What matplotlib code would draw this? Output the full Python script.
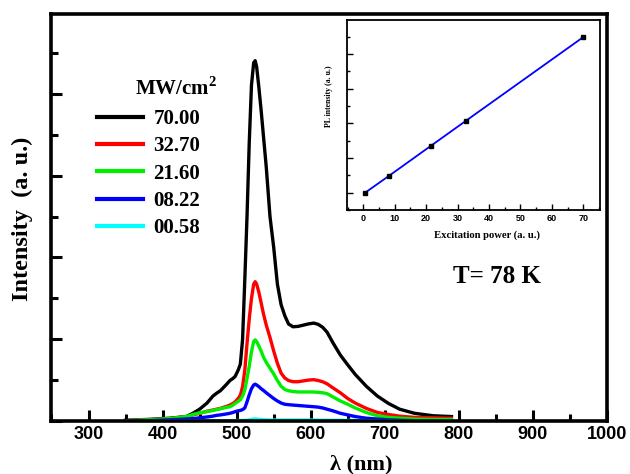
import numpy as np
import matplotlib
matplotlib.use("Agg")
import matplotlib.pyplot as plt
from matplotlib.ticker import MultipleLocator

plt.rcParams['mathtext.fontset'] = 'custom'
plt.rcParams['mathtext.rm'] = 'Liberation Serif:bold'
plt.rcParams['mathtext.bf'] = 'Liberation Serif:bold'

# wavelength grid (nm) shared by all spectra
wl = [350, 380, 410, 432, 441, 450, 460, 468, 473, 478, 485, 491, 495, 498, 502, 505,
      508, 511, 514, 517, 520, 523, 525, 527, 530, 533, 536, 540, 545, 550, 555, 560,
      565, 570, 576, 583, 590, 597, 604, 610, 616, 622, 630, 640, 650, 660, 675, 690,
      705, 720, 740, 765, 790]

pl_70 = [0.03, 0.05, 0.08, 0.12, 0.2, 0.3, 0.45, 0.62, 0.69, 0.75, 0.88, 1.0, 1.05, 1.1, 1.25, 1.4,
         2.0, 3.45, 5.0, 6.8, 8.2, 8.75, 8.8, 8.65, 8.15, 7.6, 7.0, 6.2, 5.0, 4.25, 3.35, 2.85,
         2.58, 2.38, 2.31, 2.32, 2.35, 2.38, 2.4, 2.37, 2.3, 2.18, 1.92, 1.62, 1.38, 1.15, 0.86, 0.62,
         0.44, 0.3, 0.2, 0.14, 0.12]
pl_327 = [0.02, 0.04, 0.07, 0.12, 0.16, 0.2, 0.25, 0.28, 0.3, 0.32, 0.36, 0.4, 0.44, 0.48, 0.56, 0.64,
          0.85, 1.25, 1.9, 2.5, 3.0, 3.35, 3.41, 3.35, 3.15, 2.9, 2.64, 2.35, 2.05, 1.72, 1.42, 1.18,
          1.06, 1.0, 0.97, 0.97, 0.99, 1.01, 1.02, 1.0, 0.97, 0.92, 0.82, 0.7, 0.56, 0.45, 0.32, 0.22,
          0.17, 0.13, 0.1, 0.09, 0.08]
pl_216 = [0.02, 0.04, 0.07, 0.12, 0.17, 0.21, 0.24, 0.27, 0.29, 0.31, 0.34, 0.36, 0.4, 0.44, 0.49, 0.53,
          0.62, 0.77, 1.05, 1.35, 1.7, 1.95, 1.99, 1.95, 1.84, 1.72, 1.58, 1.44, 1.3, 1.16, 1.0, 0.86,
          0.78, 0.75, 0.73, 0.72, 0.72, 0.72, 0.72, 0.71, 0.7, 0.68, 0.6, 0.5, 0.42, 0.33, 0.22, 0.14,
          0.1, 0.08, 0.06, 0.05, 0.05]
pl_822 = [0.01, 0.02, 0.04, 0.06, 0.07, 0.09, 0.11, 0.13, 0.15, 0.16, 0.18, 0.2, 0.22, 0.24, 0.26, 0.27,
          0.29, 0.33, 0.48, 0.65, 0.8, 0.89, 0.91, 0.89, 0.85, 0.8, 0.76, 0.7, 0.63, 0.56, 0.5, 0.45,
          0.42, 0.41, 0.4, 0.39, 0.38, 0.37, 0.36, 0.35, 0.33, 0.3, 0.26, 0.2, 0.16, 0.12, 0.08, 0.06,
          0.04, 0.03, 0.02, 0.02, 0.02]
pl_058 = [0.01, 0.01, 0.015, 0.02, 0.02, 0.02, 0.02, 0.02, 0.02, 0.02, 0.02, 0.02, 0.02, 0.02, 0.025, 0.025,
          0.025, 0.03, 0.03, 0.04, 0.05, 0.06, 0.06, 0.06, 0.05, 0.05, 0.04, 0.04, 0.035, 0.035, 0.035, 0.035,
          0.035, 0.035, 0.035, 0.035, 0.035, 0.035, 0.035, 0.035, 0.03, 0.03, 0.03, 0.03, 0.025, 0.025, 0.02, 0.02,
          0.02, 0.02, 0.02, 0.02, 0.02]

spectra = [pl_70, pl_327, pl_216, pl_822, pl_058]
labels = ["70.00", "32.70", "21.60", "08.22", "00.58"]
colors = ["black", "red", "#00ee00", "blue", "cyan"]

# inset: integrated PL vs excitation power
power = [0.58, 8.22, 21.6, 32.7, 70.0]
pl_int = [0.0, 0.98, 2.72, 4.16, 8.99]

fig = plt.figure(figsize=(6.3, 4.74), dpi=100)
ax = fig.add_axes([0.0817, 0.1108, 0.8818, 0.8597])

for y, lab, c in zip(spectra, labels, colors):
    ax.plot(wl, y, color=c, lw=2.4, label=lab)

ax.set_xlim(250, 1000)
ax.set_ylim(0, 9.94)
ax.xaxis.set_major_locator(MultipleLocator(100))
ax.xaxis.set_minor_locator(MultipleLocator(50))
ax.yaxis.set_major_locator(MultipleLocator(2))
ax.yaxis.set_minor_locator(MultipleLocator(1))
ax.tick_params(which='both', direction='in', top=False, right=False, width=2.2)
ax.tick_params(which='major', length=8)
ax.tick_params(which='minor', length=5)
ax.tick_params(axis='y', which='major', labelleft=False)
ax.tick_params(axis='x', labelsize=13)
for t in ax.get_xticklabels():
    t.set_fontfamily('Liberation Sans')
    t.set_fontweight('bold')
for s in ax.spines.values():
    s.set_linewidth(2.6)

ax.set_xlabel("λ (nm)", fontfamily='Liberation Serif', fontweight='bold', fontsize=16)
ax.xaxis.set_label_coords(0.557, -0.08)
ax.set_ylabel("Intensity  (a. u.)", fontfamily='Liberation Serif', fontweight='bold', fontsize=17.5)
ax.yaxis.set_label_coords(-0.033, 0.497)

leg = ax.legend(loc='upper left', bbox_to_anchor=(0.082, 0.767), frameon=False,
                prop={'family': 'Liberation Serif', 'weight': 'bold', 'size': 15},
                handlelength=2.2, handletextpad=0.5, labelspacing=0.35,
                borderpad=0, borderaxespad=0)
for h in leg.get_lines():
    h.set_linewidth(3)
ax.text(0.150, 0.801, r"MW/cm$^{2}$", transform=ax.transAxes, fontfamily='Liberation Serif',
        fontweight='bold', fontsize=15, va='baseline')
ax.text(0.723, 0.34, "T= 78 K", transform=ax.transAxes, fontfamily='Liberation Serif',
        fontweight='bold', fontsize=18, va='baseline')

# inset
ins = fig.add_axes([0.5508, 0.557, 0.4016, 0.401])
ins.plot(power, pl_int, color='blue', lw=1.3, marker='s', ms=3.5, mfc='black', mec='black')
ins.set_xlim(-5.2, 75.3)
ins.set_ylim(-1.0, 9.98)
ins.xaxis.set_major_locator(MultipleLocator(10))
ins.xaxis.set_minor_locator(MultipleLocator(5))
ins.yaxis.set_major_locator(MultipleLocator(2))
ins.yaxis.set_minor_locator(MultipleLocator(1))
ins.tick_params(which='both', direction='in', top=False, right=False, width=1.0)
ins.tick_params(which='major', length=4)
ins.tick_params(which='minor', length=2.5)
ins.tick_params(axis='y', labelleft=False)
ins.tick_params(axis='x', labelsize=6.5, pad=3)
for t in ins.get_xticklabels():
    t.set_fontfamily('Liberation Sans')
    t.set_fontweight('bold')
for s in ins.spines.values():
    s.set_linewidth(1.3)
ins.set_xlabel("Excitation power (a. u.)", fontfamily='Liberation Serif', fontweight='bold', fontsize=7.7)
ins.xaxis.set_label_coords(0.552, -0.105)
ins.set_ylabel("PL intensity (a. u.)", fontfamily='Liberation Serif', fontweight='bold', fontsize=5.6)
ins.yaxis.set_label_coords(-0.055, 0.60)

fig.savefig("out.png", dpi=100)
